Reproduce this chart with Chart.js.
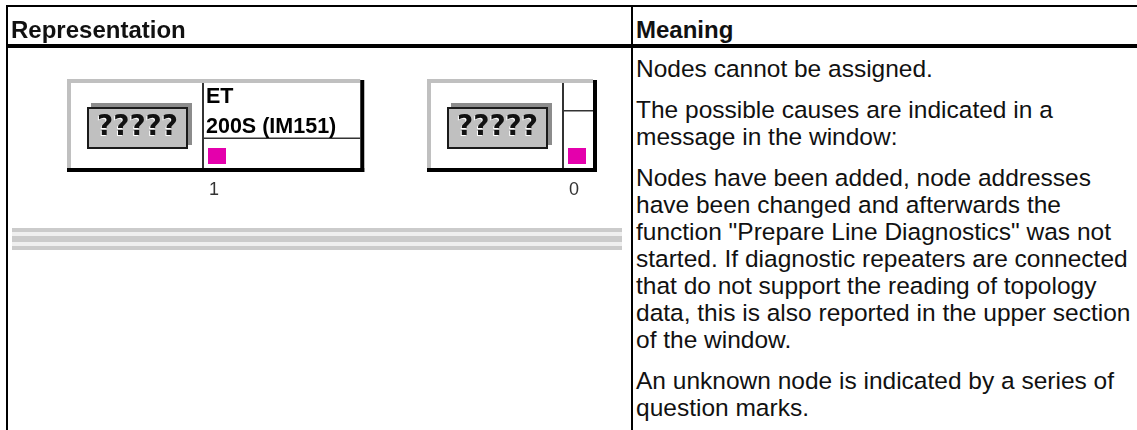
<!DOCTYPE html>
<html>
<head>
<meta charset="utf-8">
<script src="https://cdn.jsdelivr.net/npm/chart.js@4"></script>
<style>
  html, body { margin: 0; padding: 0; background: #fff; }
  body { width: 1137px; height: 430px; overflow: hidden; position: relative;
         font-family: "Liberation Sans", Arial, sans-serif; color: #111; }
  #diagram { position: absolute; left: 0; top: 0; width: 631px; height: 430px; }
  .rule { position: absolute; background: #000; z-index: 2; }
  .head { position: absolute; top: 16px; font-weight: bold; font-size: 24px; line-height: 27px; white-space: nowrap; }
  #meaning { position: absolute; left: 636px; top: 55px; font-size: 24.5px; line-height: 27px; white-space: nowrap; }
  #meaning p { margin: 0 0 14px 0; }
</style>
</head>
<body>
<div id="diagram"><canvas id="chart"></canvas></div>

<div class="rule" style="left:6px; top:5px; width:1131px; height:2px"></div>
<div class="rule" style="left:6px; top:5px; width:2px; height:425px"></div>
<div class="rule" style="left:6px; top:44px; width:1131px; height:4px"></div>
<div class="rule" style="left:631px; top:5px; width:2px; height:425px"></div>

<div class="head" id="h0" style="left:11px"></div>
<div class="head" id="h1" style="left:636px"></div>
<div id="meaning"></div>

<script>
// table texts
const columnHeaders = ["Representation", "Meaning"]
const meaningParagraphs = [
  ["Nodes cannot be assigned."],
  ["The possible causes are indicated in a", "message in the window:"],
  ["Nodes have been added, node addresses",
   "have been changed and afterwards the",
   "function \"Prepare Line Diagnostics\" was not",
   "started. If diagnostic repeaters are connected",
   "that do not support the reading of topology",
   "data, this is also reported in the upper section",
   "of the window."],
  ["An unknown node is indicated by a series of", "question marks."]
]

// nodes on the line (left to right)
const nodeAddresses = ["1", "0"]
const nodeNames     = [["ET", "200S (IM151)"], []]
const nodeLabels    = ["?????", "?????"]

document.getElementById("h0").textContent = columnHeaders[0]
document.getElementById("h1").textContent = columnHeaders[1]
const meaningEl = document.getElementById("meaning")
meaningParagraphs.forEach(lines => {
  const p = document.createElement("p")
  lines.forEach((l, i) => {
    if (i) p.appendChild(document.createElement("br"))
    p.appendChild(document.createTextNode(l))
  })
  meaningEl.appendChild(p)
})

const NODE_TOP = 79      // y units (scale is 1:1 with the cell)
const NODE_BOTTOM = 172
const BUS_LEVEL = 239
const MAGENTA = "#e400ac"

function drawNode(ctx, ax, top, bottom, address, names, label) {
  const left = ax - 150
  const divX = ax - 14
  ctx.font = 'bold 21.5px "Liberation Sans", Arial, sans-serif'
  const textW = names.reduce((m, s) => Math.max(m, ctx.measureText(s).width), 0)
  const right = divX + Math.max(34, textW + 31)

  // body
  ctx.fillStyle = "#fff"
  ctx.fillRect(left, top, right - left, bottom - top)
  ctx.fillStyle = "#c0c0c0"
  ctx.fillRect(left, top, right - left - 4, 4)
  ctx.fillRect(left, top, 4, bottom - top - 4)
  ctx.fillStyle = "#000"
  ctx.fillRect(right - 4, top + 1, 4, bottom - top - 1)
  ctx.fillRect(left, bottom - 4, right - left, 4)

  // slave section
  ctx.fillStyle = "#333"
  ctx.fillRect(divX - 1, top + 4, 2, bottom - top - 8)
  const lineY = top + 4 + Math.max(1, names.length) * 27.5
  ctx.fillRect(divX + 1, lineY - 0.5, right - 4 - divX - 1, 1.5)
  ctx.fillStyle = "#000"
  ctx.textAlign = "left"
  ctx.textBaseline = "alphabetic"
  names.forEach((s, i) => ctx.fillText(s, divX + 3, top + 24 + i * 30))
  ctx.fillStyle = MAGENTA
  ctx.fillRect(ax - 9, 148, 18, 16)

  // unknown-node button
  ctx.fillStyle = "#8c8c8c"
  ctx.fillRect(ax - 126, 103, 101, 42)
  ctx.fillStyle = "#c0c0c0"
  ctx.fillRect(ax - 130, 107, 101, 42)
  ctx.strokeStyle = "#1a1a1a"
  ctx.lineWidth = 2
  ctx.strokeRect(ax - 129, 108, 99, 40)
  ctx.font = 'bold 28px "DejaVu Sans", sans-serif'
  ctx.textAlign = "center"
  ctx.textBaseline = "middle"
  ctx.fillStyle = "#fff"
  ctx.fillText(label, ax - 80.5, 129)
  ctx.fillStyle = "#111"
  ctx.fillText(label, ax - 79.5, 128)

  // address
  ctx.font = '18px "Liberation Sans", Arial, sans-serif'
  ctx.textBaseline = "alphabetic"
  ctx.fillStyle = "#333"
  ctx.fillText(address, ax - 3, 195)
}

const nodeDiagram = {
  id: "nodeDiagram",
  beforeDraw(chart) {
    const { ctx, chartArea: a, scales: { x, y } } = chart
    ctx.save()
    ctx.fillStyle = "#fff"
    ctx.fillRect(a.left, a.top, a.right - a.left, a.bottom - a.top)

    // bus line (three grey bands)
    const by = y.getPixelForValue(BUS_LEVEL)
    const bx0 = a.left + 12, bx1 = a.right - 9
    ctx.fillStyle = "#efefef"
    ctx.fillRect(bx0, by - 11, bx1 - bx0, 22)
    ctx.fillStyle = "#cbcbcb"
    ctx.fillRect(bx0, by - 11, bx1 - bx0, 4)
    ctx.fillRect(bx0, by - 3, bx1 - bx0, 6)
    ctx.fillRect(bx0, by + 7, bx1 - bx0, 4)
    ctx.restore()
  },
  afterDatasetsDraw(chart) {
    const { ctx, scales: { x, y } } = chart
    const meta = chart.getDatasetMeta(0)
    ctx.save()
    meta.data.forEach((pt, i) => {
      drawNode(ctx, Math.round(pt.x), y.getPixelForValue(NODE_TOP), y.getPixelForValue(NODE_BOTTOM),
               nodeAddresses[i], nodeNames[i], nodeLabels[i])
    })
    ctx.restore()
  }
}

new Chart(document.getElementById("chart"), {
  type: "scatter",
  data: {
    datasets: [{
      label: "Nodes",
      data: nodeAddresses.map((a, i) => ({ x: i, y: NODE_TOP })),
      pointRadius: 0,
      pointHoverRadius: 0
    }]
  },
  options: {
    responsive: true,
    maintainAspectRatio: false,
    animation: false,
    events: [],
    layout: { padding: 0 },
    plugins: { legend: { display: false }, tooltip: { enabled: false } },
    scales: {
      x: { type: "linear", display: false, min: -217 / 360, max: (631 - 217) / 360 },
      y: { type: "linear", display: false, min: 0, max: 430, reverse: true }
    }
  },
  plugins: [nodeDiagram]
})
</script>
</body>
</html>
